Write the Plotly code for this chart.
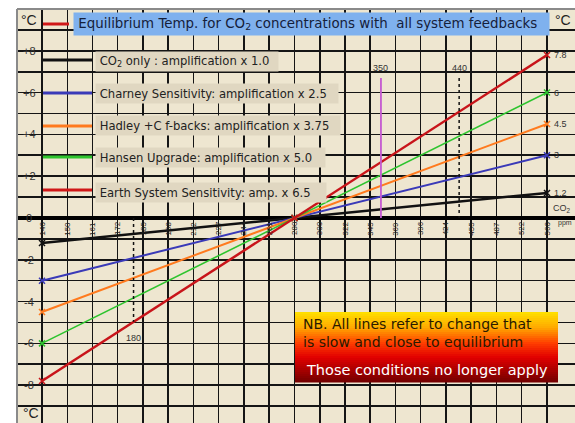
import numpy as np
import plotly.graph_objects as go

# ---------------- data ----------------
ppm_points = [140, 280, 560]
co2_only = [-1.2, 0.0, 1.2]
charney = [-3.0, 0.0, 3.0]
hadley = [-4.5, 0.0, 4.5]
hansen = [-6.0, 0.0, 6.0]
earth_system = [-7.8, 0.0, 7.8]

series_names = ["CO2 only", "Charney", "Hadley", "Hansen", "Earth System"]
series_values = [co2_only, charney, hadley, hansen, earth_system]
series_colors = ["#111111", "#3a3ab8", "#ff7a1e", "#2ec42e", "#c8141a"]
series_widths = [2.5, 2.0, 2.0, 1.6, 2.5]

grid_ppm = [140, 150.1, 160.8, 172.3, 184.7, 197.9, 212.1, 227.3, 243.6, 261.2, 280,
            300.1, 321.6, 344.7, 369.4, 395.9, 424.3, 454.8, 487.4, 522.4, 560]
grid_labels = ["140", "150", "161", "172", "185", "198", "212", "227", "244", "261", "280",
               "300", "322", "345", "369", "396", "424", "455", "487", "522", "560"]

y_label_vals = [8, 6, 4, 2, 0, -2, -4, -6, -8]
y_label_text = ["+8", "+6", "+4", "+2", "0", "-2", "-4", "-6", "-8"]

end_label_vals = [7.8, 6.0, 4.5, 3.0, 1.2]
end_label_text = ["7.8", "6", "4.5", "3", "1.2"]

marker_ppm = [180, 355, 440]
marker_text = ["180", "350", "440"]
marker_y0 = [0.0, 6.7, 6.7]
marker_y1 = [-4.97, 0.0, 0.0]
marker_label_y = [-5.75, 7.2, 7.2]
marker_colors = ["#111111", "#c45ad0", "#111111"]
marker_dash = ["dot", "solid", "dot"]

legend_texts = [
    "CO<sub>2</sub> only : amplification x 1.0",
    "Charney Sensitivity: amplification x 2.5",
    "Hadley +C f-backs: amplification x 3.75",
    "Hansen Upgrade: amplification x 5.0",
    "Earth System Sensitivity: amp. x 6.5",
]

# ---------------- layout helpers (pixel -> paper) ----------------
W, H = 575, 423
L, T = 17, 9
PW, PH = W - L, H - T
FONT = "DejaVu Sans"


def px(x):
    return (x - L) / PW


def py(y):
    return 1 - (y - T) / PH


fig = go.Figure()

for name, vals, col, w in zip(series_names, series_values, series_colors, series_widths):
    fig.add_trace(go.Scatter(
        x=ppm_points, y=vals, mode="lines+markers", name=name,
        line=dict(color=col, width=w),
        marker=dict(symbol="x-thin", size=6, line=dict(color=col, width=1.5), color=col),
        showlegend=False, hoverinfo="skip"))

for xv, y0, y1, col, dash in zip(marker_ppm, marker_y0, marker_y1, marker_colors, marker_dash):
    fig.add_trace(go.Scatter(
        x=[xv, xv], y=[y0, y1], mode="lines",
        line=dict(color=col, width=1.5 if dash == "dot" else 1.8, dash=dash),
        showlegend=False, hoverinfo="skip"))

annotations = []
shapes = []

# border (left and top gray)
shapes.append(dict(type="line", xref="paper", yref="paper", x0=0, x1=0, y0=0, y1=1,
                   line=dict(color="#8a8a8a", width=2)))
shapes.append(dict(type="line", xref="paper", yref="paper", x0=0, x1=1, y0=1, y1=1,
                   line=dict(color="#8a8a8a", width=2)))


def ann(**kw):
    kw.setdefault("showarrow", False)
    kw.setdefault("xanchor", "center")
    kw.setdefault("yanchor", "middle")
    annotations.append(kw)


# x tick labels (rotated, inside plot just below the zero line)
for xv, lab in zip(grid_ppm, grid_labels):
    ann(x=np.log10(xv), y=-0.5, xref="x", yref="y", text=lab, textangle=-90,
        font=dict(size=8, color="#222222", family="Liberation Sans"))

# left y labels
for v, t in zip(y_label_vals, y_label_text):
    ann(x=px(29), y=v, xref="paper", yref="y", text=t,
        font=dict(size=11, color="#333333", family="Liberation Sans"))

# right end labels
for v, t in zip(end_label_vals, end_label_text):
    ann(x=px(552), y=v, xref="paper", yref="y", text=t, xanchor="left",
        font=dict(size=9, color="#333333", family="Liberation Sans"))
ann(x=px(562), y=py(209), xref="paper", yref="paper", text="CO<sub>2</sub>",
    font=dict(size=9, color="#333333", family="Liberation Sans"))
ann(x=px(565), y=py(223), xref="paper", yref="paper", text="ppm",
    font=dict(size=7, color="#333333", family="Liberation Sans"))

# degree C labels
for (xx, yy) in [(29, 20), (563, 20), (31, 413)]:
    ann(x=px(xx), y=py(yy), xref="paper", yref="paper", text="°C",
        font=dict(size=14, color="#222222", family="Liberation Sans"))

# marker labels
for xv, t, yv in zip(marker_ppm, marker_text, marker_label_y):
    ann(x=np.log10(xv), y=yv, xref="x", yref="y", text=t,
        font=dict(size=9, color="#333333", family="Liberation Sans"))

# title box with red line sample
shapes.append(dict(type="line", xref="paper", yref="paper", x0=px(43), x1=px(69), y0=py(24), y1=py(24),
                   line=dict(color="#d01818", width=3)))
ann(x=px(73), y=py(12), xref="paper", yref="paper", xanchor="left", yanchor="top",
    text="&nbsp;Equilibrium Temp. for CO<sub>2</sub> concentrations with  all system feedbacks",
    align="left", width=475, height=22, bgcolor="#7fb1ee", borderpad=0, valign="middle",
    font=dict(size=13.4, color="#15203a", family=FONT))

# legend entries
leg_line_y = [60, 93, 126, 157, 190]
leg_box_top = [51, 83, 115, 147, 182]
leg_box_w = [182, 242, 244, 229, 230]
for t, ly, bt, bw, col in zip(legend_texts, leg_line_y, leg_box_top, leg_box_w, series_colors):
    lc = "#d01818" if col == "#c8141a" else col
    shapes.append(dict(type="line", xref="paper", yref="paper", x0=px(43), x1=px(92), y0=py(ly), y1=py(ly),
                       line=dict(color=lc, width=3)))
    ann(x=px(95), y=py(bt), xref="paper", yref="paper", xanchor="left", yanchor="top",
        text="&nbsp;" + t, align="left", width=bw, height=19,
        bgcolor="#e0d7c1", borderpad=0, valign="middle",
        font=dict(size=11.6, color="#222222", family=FONT))

# NB box with vertical gradient
bx0, bx1, by0, by1 = 295, 558, 312, 382
stops = [(0.0, (255, 226, 0)), (0.22, (255, 170, 0)), (0.45, (255, 60, 0)),
         (0.65, (225, 0, 0)), (1.0, (115, 0, 0))]


def grad(f):
    for (f0, c0), (f1, c1) in zip(stops[:-1], stops[1:]):
        if f0 <= f <= f1:
            r = (f - f0) / (f1 - f0)
            return "rgb(%d,%d,%d)" % tuple(int(a + (b - a) * r) for a, b in zip(c0, c1))
    return "rgb(%d,%d,%d)" % stops[-1][1]


n = 35
for i in range(n):
    ya = by0 + (by1 - by0) * i / n
    yb = by0 + (by1 - by0) * (i + 1) / n + 0.6
    shapes.append(dict(type="rect", xref="paper", yref="paper", x0=px(bx0), x1=px(bx1),
                       y0=py(yb), y1=py(ya), line=dict(width=0),
                       fillcolor=grad((i + 0.5) / n), layer="above"))

ann(x=px(301), y=py(324), xref="paper", yref="paper", xanchor="left",
    text="NB. All lines refer to change that",
    font=dict(size=14, color="#2a1a00", family=FONT))
ann(x=px(301), y=py(342), xref="paper", yref="paper", xanchor="left",
    text="is slow and close to equilibrium",
    font=dict(size=14, color="#2a1a00", family=FONT))
ann(x=px(304), y=py(370), xref="paper", yref="paper", xanchor="left",
    text="Those conditions no longer apply",
    font=dict(size=14.5, color="#ffffff", family=FONT))

x_lo = np.log10(140) - 25 / (505 / np.log10(4))
x_hi = np.log10(560) + 28 / (505 / np.log10(4))

fig.update_layout(
    width=W, height=H,
    margin=dict(l=L, r=0, t=T, b=0, pad=0),
    paper_bgcolor="#ffffff",
    plot_bgcolor="#eee6d0",
    xaxis=dict(type="log", range=[x_lo, x_hi], tickvals=grid_ppm, showticklabels=False,
               showgrid=True, gridcolor="#151515", gridwidth=1.6, zeroline=False,
               showline=False, ticks="", fixedrange=True),
    yaxis=dict(range=[-9.81, 10.0], dtick=1, tick0=0, showticklabels=False,
               showgrid=True, gridcolor="#151515", gridwidth=1.6,
               zeroline=True, zerolinecolor="#000000", zerolinewidth=3.5,
               showline=False, ticks="", fixedrange=True),
    showlegend=False,
    annotations=annotations,
    shapes=shapes,
)

fig.write_html("out.html",
               config={"displayModeBar": False, "staticPlot": True},
               post_script="document.body.style.margin='0';document.body.style.padding='0';"
                           "document.documentElement.style.overflow='hidden';")
